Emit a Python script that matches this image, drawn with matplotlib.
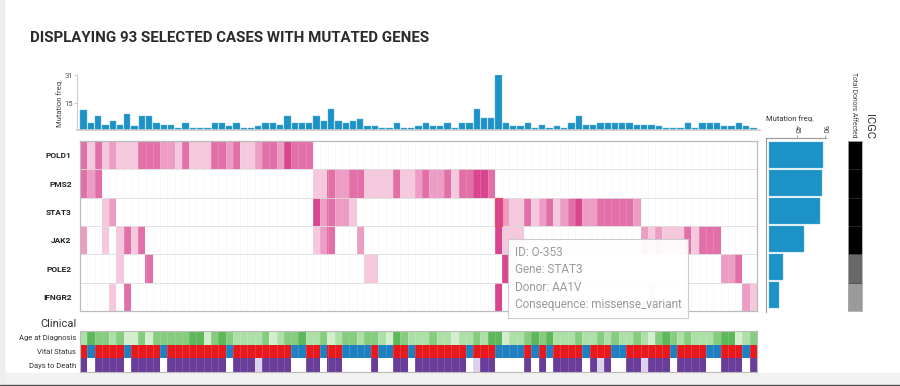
import matplotlib
matplotlib.use("Agg")
import matplotlib.pyplot as plt
import numpy as np
from matplotlib.colors import ListedColormap, to_rgb
from matplotlib.patches import Rectangle

plt.rcParams['font.family'] = ['Roboto', 'DejaVu Sans']

# ----------------------------------------
# Data
# ----------------------------------------
genes = ["POLD1", "PMS2", "STAT3", "JAK2", "POLE2", "IFNGR2"]
gene_freq = [87, 85, 83, 57, 23, 16]      # right bar chart
icgc_level = [3, 3, 3, 3, 2, 1]           # ICGC total donors affected (shade)

# mutations per case (top bar chart), 93 cases
case_freq = [11, 4, 8, 3, 5, 3, 9, 2, 8, 8,
             4, 3, 3, 1, 4, 1, 1, 1, 4, 4,
             2, 4, 1, 1, 2, 4, 4, 3, 8, 4,
             4, 4, 8, 5, 12, 5, 4, 5, 6, 2,
             2, 1, 1, 4, 1, 1, 2, 4, 2, 2,
             4, 1, 4, 4, 12, 7, 7, 31, 4, 2,
             2, 4, 1, 3, 1, 2, 1, 4, 8, 3,
             3, 4, 4, 4, 4, 4, 3, 3, 3, 2,
             1, 1, 1, 4, 1, 4, 4, 4, 2, 2,
             4, 2, 1]

# mutation shade per case (0 = none, 1..4 = light..dark), groups of 10 cases
pold1 = "3131211133 3221311133 2311233243 3300000000 0000000000 0000000000 0000000000 0000000000 0000000000 000"
pms2 = "3230000000 0000000000 0000000000 0011322331 1113112322 3133443000 0000000000 0000000000 0000000000 000"
stat3 = "0001200000 0000000000 0000000000 0042322100 0000000000 0000000421 1312312342 2333332000 0000000000 000"
jak2 = "2001013130 0000000000 0000000000 0012300020 0000000000 0000000411 1000000000 0000000212 1113133300 000"
pole2 = "0000010003 0000000000 0000000000 0000000001 1000000000 0000000041 0000000000 0000000000 0000000022 300"
ifngr2 = "0000103000 0000000000 0000000000 0000000000 0000000000 0000000400 0000000000 0000000010 0000000000 021"

# clinical tracks
age_level = "1322120020 2222233023 2111120122 3112012212 2103211121 1011213301 1232311121 1212112102 3212111233 012"
vital_dead = "1011110111 1011111111 0111111110 0110110000 1001101111 1110111000 0101011110 1110011111 1011110011 101"
days_death = "2022220222 2022222222 0222122220 0220220000 2002202222 2220122000 0202022220 2120022122 2022220022 202"
clinical_rows = ["Age at Diagnosis", "Vital Status", "Days to Death"]

highlight_case = 57
highlight_gene = "STAT3"
tooltip_lines = ["ID: O-353", "Gene: STAT3", "Donor: AA1V", "Consequence: missense_variant"]


def levels(s):
    return [int(c) for c in s.replace(" ", "")]


W, H = 900, 386


def box(x0, y0, x1, y1):
    # pixel box (from top-left) -> figure fraction rect
    return [x0 / W, 1 - y1 / H, (x1 - x0) / W, (y1 - y0) / H]


fig = plt.figure(figsize=(W / 100, H / 100), dpi=100)
fig.patch.set_facecolor("white")

# screenshot frame
fig.add_artist(Rectangle((0, 0), 1, 13 / H, transform=fig.transFigure, color="#f2f2f2", zorder=0))
fig.add_artist(Rectangle((0, 0), 1, 1.5 / H, transform=fig.transFigure, color="#555555", zorder=1))
fig.add_artist(Rectangle((0, 0), 4 / W, 1, transform=fig.transFigure, color="#eeeeee", zorder=0))

fig.text(30 / W, 1 - 38 / H, "DISPLAYING 93 SELECTED CASES WITH MUTATED GENES",
         fontsize=10.8, fontweight="bold", color="#2b2b2b", va="center", ha="left")

n = len(case_freq)
x = np.arange(n)
bar_blue = "#1d92c6"

# ---------------- top bar chart ----------------
ax_top = fig.add_axes(box(77, 75, 760, 130))
ax_top.bar(x, case_freq, width=0.86, color=bar_blue, edgecolor="#63b6dc", linewidth=0.3)
ax_top.set_xlim(-0.91, n - 0.09)
ax_top.set_ylim(0, 31)
ax_top.set_yticks([15, 31])
ax_top.set_xticks([])
ax_top.tick_params(axis="y", labelsize=5.5, labelcolor="#555555", length=2, color="#cccccc", pad=1)
for s in ["top", "right"]:
    ax_top.spines[s].set_visible(False)
ax_top.spines["left"].set_color("#cccccc")
ax_top.spines["bottom"].set_color("#cccccc")
ax_top.spines["bottom"].set_linewidth(1.2)
ax_top.set_ylabel("Mutation freq.", fontsize=5.5, color="#444444", labelpad=1)

# ---------------- mutation grid ----------------
matrix = np.array([levels(pold1), levels(pms2), levels(stat3),
                   levels(jak2), levels(pole2), levels(ifngr2)])
pinks = ListedColormap(["#ffffff", "#f5c8dd", "#ed9cc4", "#e26fa8", "#d9458e"])
ax_grid = fig.add_axes(box(80, 141, 757, 311))
ax_grid.imshow(matrix, cmap=pinks, vmin=0, vmax=4, aspect="auto", interpolation="nearest")
ax_grid.set_xticks(np.arange(-0.5, n, 1), minor=True)
ax_grid.set_yticks(np.arange(-0.5, len(genes), 1), minor=True)
ax_grid.grid(which="minor", axis="x", color="#e4e4e4", linewidth=0.4, alpha=0.35)
ax_grid.grid(which="minor", axis="y", color="#dddddd", linewidth=0.6)
ax_grid.set_xticks([])
ax_grid.set_yticks(range(len(genes)))
ax_grid.set_yticklabels(genes, fontsize=6, fontweight="bold", color="#222222")
ax_grid.tick_params(which="both", length=0)
ax_grid.tick_params(axis="y", pad=6)
for s in ax_grid.spines.values():
    s.set_color("#bbbbbb")
    s.set_linewidth(0.9)

hr = genes.index(highlight_gene)
ax_grid.add_patch(Rectangle((highlight_case - 0.5, hr - 0.5), 1, 1, fill=False,
                            edgecolor="#ee4a5a", linewidth=0.9, zorder=5))
ax_grid.text(highlight_case + 2.25, hr + 1.2, "\n".join(tooltip_lines),
             fontsize=8.5, color="#9a9a9a", ha="left", va="top", linespacing=1.45, zorder=10,
             bbox=dict(boxstyle="square,pad=0.55", facecolor="white", edgecolor="#c9c9c9",
                       linewidth=0.8, alpha=0.93))

# ---------------- right bar chart ----------------
ax_r = fig.add_axes(box(766, 138, 826, 312))
y = np.arange(len(genes))
ax_r.barh(y, gene_freq, height=0.94, color=bar_blue, edgecolor="#63b6dc", linewidth=0.3)
ax_r.set_ylim(len(genes) - 0.4, -0.6)
ax_r.set_xlim(-5, 92)
ax_r.xaxis.tick_top()
ax_r.set_xticks([45, 90])
ax_r.set_xticklabels(["45", "90"], rotation=-90)
ax_r.set_yticks([])
ax_r.tick_params(axis="x", labelsize=5.5, labelcolor="#444444", length=2, color="#aaaaaa", pad=1)
ax_r.xaxis.set_label_position("top")
ax_r.set_xlabel("Mutation freq.", fontsize=5.5, color="#333333", loc="left", labelpad=3)
for s in ["bottom", "right"]:
    ax_r.spines[s].set_visible(False)
ax_r.spines["top"].set_color("#999999")
ax_r.spines["left"].set_color("#999999")

# ---------------- ICGC column ----------------
greys = ListedColormap(["#ffffff", "#9a9a9a", "#686868", "#000000"])
ax_i = fig.add_axes(box(848, 141, 862, 311))
ax_i.imshow(np.array(icgc_level).reshape(-1, 1), cmap=greys, vmin=0, vmax=3,
            aspect="auto", interpolation="nearest")
ax_i.set_yticks(np.arange(-0.5, len(genes), 1), minor=True)
ax_i.grid(which="minor", axis="y", color="#333333", linewidth=0.5)
ax_i.set_xticks([])
ax_i.set_yticks([])
ax_i.tick_params(which="both", length=0)
for s in ax_i.spines.values():
    s.set_color("#aaaaaa")
    s.set_linewidth(0.6)
fig.text(853 / W, 1 - 72 / H, "Total Donors Affected", rotation=-90, fontsize=4.9,
         color="#444444", ha="center", va="top")
fig.text(869 / W, 1 - 126 / H, "ICGC", rotation=-90, fontsize=8, color="#333333",
         ha="center", va="center")

# ---------------- clinical tracks ----------------
age_cols = [to_rgb(c) for c in ["#d2eecc", "#ade0a6", "#86cc7e", "#5db85a"]]
vital_cols = [to_rgb("#1f7fc1"), to_rgb("#e8191d")]
days_cols = [to_rgb("#ffffff"), to_rgb("#dcd2ea"), to_rgb("#6b3d9a")]
clin = np.array([[age_cols[v] for v in levels(age_level)],
                 [vital_cols[v] for v in levels(vital_dead)],
                 [days_cols[v] for v in levels(days_death)]])
ax_c = fig.add_axes(box(80, 331, 757, 372))
ax_c.imshow(clin, aspect="auto", interpolation="nearest")
ax_c.set_xticks(np.arange(-0.5, n, 1), minor=True)
ax_c.grid(which="minor", axis="x", color="#f4f4f4", linewidth=0.4, alpha=0.25)
ax_c.set_xticks([])
ax_c.set_yticks(range(len(clinical_rows)))
ax_c.set_yticklabels(clinical_rows, fontsize=5.5, color="#333333")
ax_c.tick_params(which="both", length=0)
ax_c.tick_params(axis="y", pad=3)
for s in ax_c.spines.values():
    s.set_color("#bbbbbb")
    s.set_linewidth(0.8)
fig.text(77 / W, 1 - 324 / H, "Clinical", fontsize=8, color="#333333", ha="right", va="center")

fig.savefig("out.png", dpi=100)
